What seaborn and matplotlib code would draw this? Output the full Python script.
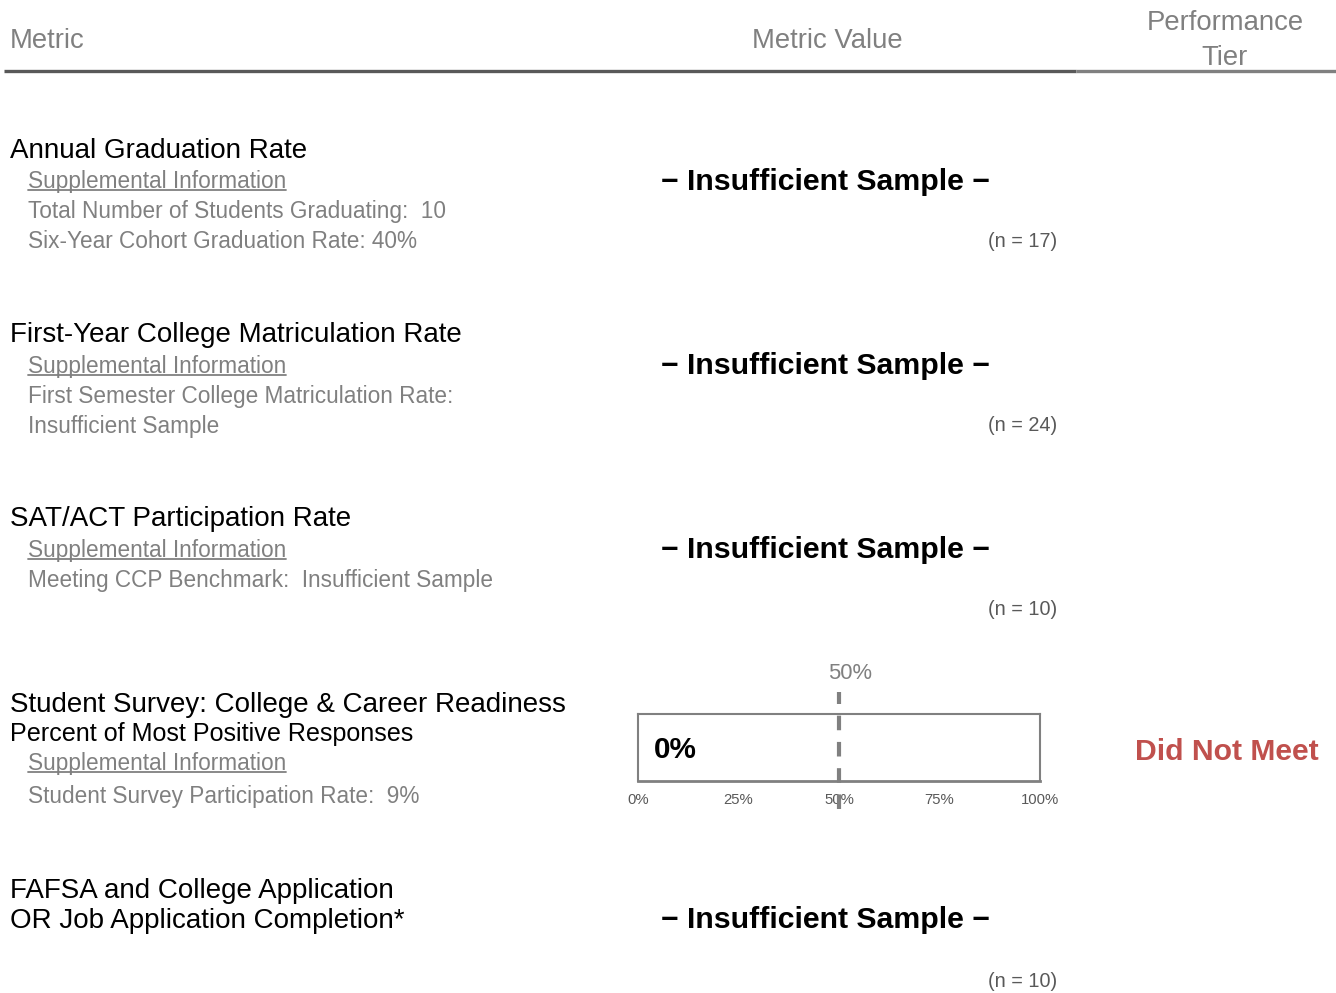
import matplotlib
matplotlib.use("Agg")
import matplotlib.pyplot as plt
import seaborn as sns
import pandas as pd

# ---------------- data ----------------
headers = ["Metric", "Metric Value", "Performance\nTier"]
metric_titles = [
    "Annual Graduation Rate",
    "First-Year College Matriculation Rate",
    "SAT/ACT Participation Rate",
    "Student Survey: College & Career Readiness\nPercent of Most Positive Responses",
    "FAFSA and College Application\nOR Job Application Completion*",
]
supp_lines = [
    ["Total Number of Students Graduating:  10", "Six-Year Cohort Graduation Rate: 40%"],
    ["First Semester College Matriculation Rate:", "Insufficient Sample"],
    ["Meeting CCP Benchmark:  Insufficient Sample"],
    ["Student Survey Participation Rate:  9%"],
    [],
]
has_supp = [True, True, True, True, False]
metric_values = ["insufficient", "insufficient", "insufficient", "bar", "insufficient"]
n_values = [17, 24, 10, None, 10]
survey_label = "Student Survey"
survey_value = [0]
benchmark = 50
axis_ticks = [0, 25, 50, 75, 100]
tier = "Did Not Meet"

# ---------------- style ----------------
sns.set_theme(style="white")
plt.rcParams["font.family"] = ["Liberation Sans", "DejaVu Sans"]

GRAY = "#808080"
DARK = "#595959"
RED = "#C0504D"
DY = 2.5  # text vertical nudge

W, H = 1336, 993
fig = plt.figure(figsize=(W / 100, H / 100), dpi=100)
ov = fig.add_axes([0, 0, 1, 1])
ov.set_xlim(0, W)
ov.set_ylim(H, 0)
ov.axis("off")

# header
ov.text(10, 38 + DY, headers[0], fontsize=19.8, color=GRAY, ha="left", va="center")
ov.text(827, 38 + DY, headers[1], fontsize=19.8, color=GRAY, ha="center", va="center")
ov.text(1225, 38 + DY, headers[2], fontsize=19.8, color=GRAY, ha="center", va="center",
        linespacing=1.45)
ov.plot([4, 1076], [71, 71], color=DARK, lw=2.4, solid_capstyle="butt")
ov.plot([1076, 1336], [71, 71], color=GRAY, lw=2.4, solid_capstyle="butt")

# row layout
title_y = [148, 333, 517, 702, 888]
value_y = [179, 363, 547, 748, 918]
n_y = [239, 423, 607, None, 979]

for i, title in enumerate(metric_titles):
    ty = title_y[i]
    lines = title.split("\n")
    if i == 3:
        ov.text(10, ty + DY, lines[0], fontsize=20, color="black", ha="left", va="center")
        ov.text(10, ty + 30 + DY, lines[1], fontsize=18.1, color="black", ha="left",
                va="center")
        sy = ty + 59
    else:
        for k, ln in enumerate(lines):
            ov.text(10, ty + 30 * k + DY, ln, fontsize=20, color="black", ha="left",
                    va="center")
        sy = ty + 31
    if has_supp[i]:
        ov.text(28, sy + DY, "Supplemental Information", fontsize=16.3, color=GRAY,
                ha="left", va="center")
        ov.plot([28, 286], [sy + 11, sy + 11], color=GRAY, lw=1.3)
        step = 30 if i != 3 else 33
        for k, ln in enumerate(supp_lines[i]):
            ov.text(28, sy + step * (k + 1) + DY, ln, fontsize=16.3,
                    color=GRAY, ha="left", va="center")
    if metric_values[i] == "insufficient":
        ov.text(825, value_y[i] + DY, "\u2212 Insufficient Sample \u2212", fontsize=21.8,
                fontweight="bold", color="black", ha="center", va="center")
    if n_values[i] is not None:
        ov.text(1057, n_y[i] + DY, f"(n = {n_values[i]})", fontsize=14.3, color=DARK,
                ha="right", va="center")

# performance tier
ov.text(1227, 749 + DY, tier, fontsize=21.7, fontweight="bold", color=RED,
        ha="center", va="center")

# bullet bar
x0, x1, yb, yt = 638, 1040, 781, 714
bax = fig.add_axes([x0 / W, 1 - yb / H, (x1 - x0) / W, (yb - yt) / H])
df = pd.DataFrame({"metric": [survey_label], "value": survey_value})
sns.barplot(data=df, x="value", y="metric", orient="h", color="#4F81BD",
            width=1.0, ax=bax)
bax.set_xlim(0, 100)
bax.set_ylim(0.5, -0.5)
bax.set_xlabel("")
bax.set_ylabel("")
bax.set_yticks([])
bax.set_xticks(axis_ticks)
bax.set_xticklabels([f"{t}%" for t in axis_ticks])
bax.tick_params(axis="x", direction="in", length=6, width=1.2, color=GRAY,
                labelsize=10.7, labelcolor=DARK, pad=9)
for sp in bax.spines.values():
    sp.set_visible(True)
    sp.set_color(GRAY)
    sp.set_linewidth(1.5)
bax.spines["bottom"].set_linewidth(2)
bax.set_facecolor("none")

tr = bax.get_xaxis_transform()
bax.plot([benchmark, benchmark], [-0.42, 1.33], transform=tr, color=GRAY, lw=3,
         linestyle=(0, (3.5, 2.8)), clip_on=False)
bax.text(benchmark + 2.7, 1.60, f"{benchmark}%", transform=tr, fontsize=15.8,
         color=GRAY, ha="center", va="center")
bax.text(survey_value[0] + 4, 0.47, f"{survey_value[0]}%", transform=tr, fontsize=21.4,
         fontweight="bold", color="black", ha="left", va="center")

fig.savefig("out.png", dpi=100)
